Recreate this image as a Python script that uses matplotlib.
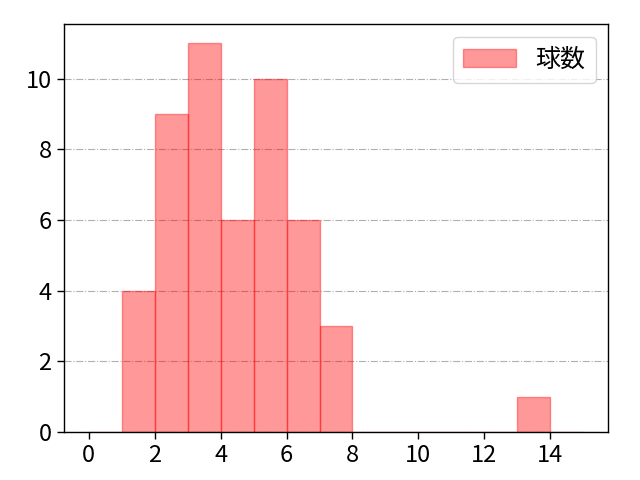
import matplotlib
matplotlib.use("Agg")
import matplotlib.pyplot as plt
import numpy as np

plt.rcParams['font.family'] = ['Noto Sans CJK JP', 'DejaVu Sans']

bin_edges = list(range(0, 16))
counts = [0, 4, 9, 11, 6, 10, 6, 3, 0, 0, 0, 0, 0, 1, 0]
label = "球数"

fig = plt.figure(figsize=(6.4, 4.8), dpi=100)
ax = fig.add_axes([0.1, 0.1, 0.85, 0.85])
ax.hist(bin_edges[:-1], bins=bin_edges, weights=counts, color='red', alpha=0.4,
        edgecolor='red', linewidth=1, label=label)
ax.grid(axis='y', linestyle='-.', color='#b0b0b0', linewidth=0.8)
ax.set_axisbelow(True)
ax.tick_params(labelsize=17, length=5, width=1, pad=4)
for s in ax.spines.values():
    s.set_linewidth(1.0)
ax.set_yticks([0, 2, 4, 6, 8, 10])
ax.set_xticks([0, 2, 4, 6, 8, 10, 12, 14])
ax.legend(loc='upper right', fontsize=18, handlelength=2.1, borderaxespad=0.5)
fig.savefig('out.png', dpi=100)
